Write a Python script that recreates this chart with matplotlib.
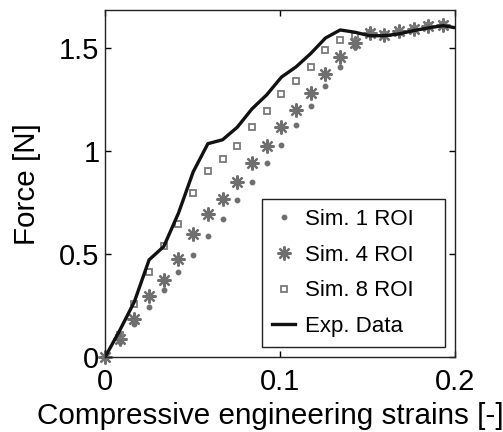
import matplotlib
matplotlib.use('Agg')
import matplotlib.pyplot as plt

plt.rcParams['font.family'] = ['Liberation Sans', 'DejaVu Sans']

# strain values of the simulation samples
strain = [0.0, 0.0084, 0.0168, 0.0252, 0.0336, 0.042, 0.0504, 0.0588,
          0.0672, 0.0756, 0.084, 0.0924, 0.1008, 0.1092, 0.1176, 0.126,
          0.1344, 0.1428, 0.1512, 0.1596, 0.168, 0.1764, 0.1848, 0.1932]

sim1 = [0, 0.075, 0.16, 0.242, 0.326, 0.412, 0.499, 0.588, 0.673, 0.762,
        0.851, 0.943, 1.033, 1.129, 1.222, 1.316, 1.411, 1.505, 1.57, 1.565,
        1.58, 1.595, 1.607, 1.612]
sim4 = [0, 0.087, 0.188, 0.298, 0.377, 0.477, 0.597, 0.698, 0.770, 0.851,
        0.943, 1.028, 1.118, 1.202, 1.285, 1.377, 1.458, 1.526, 1.576, 1.566,
        1.583, 1.596, 1.609, 1.612]
sim8 = [0, 0.11, 0.258, 0.415, 0.539, 0.646, 0.80, 0.903, 0.961, 1.024,
        1.117, 1.195, 1.279, 1.343, 1.408, 1.492, 1.542, 1.562, 1.572, 1.566,
        1.58, 1.595, 1.607, 1.612]

# experimental curve
exp_strain = [0.0, 0.0084, 0.0168, 0.0252, 0.0336, 0.042, 0.0504, 0.0588,
              0.0672, 0.0756, 0.084, 0.0924, 0.1008, 0.1092, 0.1176, 0.126,
              0.1344, 0.1428, 0.1512, 0.1596, 0.168, 0.1764, 0.1848, 0.1932, 0.2]
exp_force = [0, 0.13, 0.27, 0.473, 0.538, 0.70, 0.90, 1.037, 1.056, 1.117,
             1.206, 1.274, 1.36, 1.41, 1.475, 1.55, 1.589, 1.578, 1.561, 1.561,
             1.57, 1.586, 1.599, 1.61, 1.60]

gray = '#6f6f6f'

fig = plt.figure(figsize=(5.03, 4.32), dpi=100)
ax = fig.add_axes([0.2087, 0.1729, 0.6959, 0.8040])

ax.plot(strain, sim1, linestyle='none', marker='o', markersize=3.2,
        color=gray, label='Sim. 1 ROI', clip_on=False)
ax.plot(strain, sim4, linestyle='none', marker=(8, 2, 0), markersize=10,
        markeredgewidth=1.6, color=gray, label='Sim. 4 ROI', clip_on=False)
ax.plot(strain, sim8, linestyle='none', marker='s', markersize=5,
        markerfacecolor='none', markeredgewidth=1.3, markeredgecolor='#7a7a7a',
        label='Sim. 8 ROI')
ax.plot(exp_strain, exp_force, color='#111111', linewidth=2.4, label='Exp. Data')

ax.set_xlim(0, 0.2)
ax.set_ylim(0, 1.686)
ax.set_xticks([0, 0.1, 0.2])
ax.set_xticklabels(['0', '0.1', '0.2'])
ax.set_yticks([0, 0.5, 1, 1.5])
ax.set_yticklabels(['0', '0.5', '1', '1.5'])
ax.tick_params(direction='in', length=4, width=1, top=True, right=True,
               labelsize=21, pad=4)
ax.tick_params(axis='x', pad=8)
for s in ax.spines.values():
    s.set_linewidth(1)
    s.set_color('#222222')

ax.set_xlabel('Compressive engineering strains [-]', fontsize=21.3)
ax.xaxis.set_label_coords(0.4714, -0.128)
ax.set_ylabel('Force [N]', fontsize=21.3, labelpad=13)

# legend stretched to the box width, like the original
leg = ax.legend(loc='lower left', bbox_to_anchor=(0.4486, 0.0296, 0.5229, 0.44),
                mode='expand', borderaxespad=0, fontsize=16, fancybox=False,
                framealpha=1, edgecolor='#222222', labelspacing=0.66,
                handlelength=1.05, handletextpad=0.45, borderpad=0.45)
leg.get_frame().set_linewidth(1)

fig.savefig('out.png', dpi=100)
